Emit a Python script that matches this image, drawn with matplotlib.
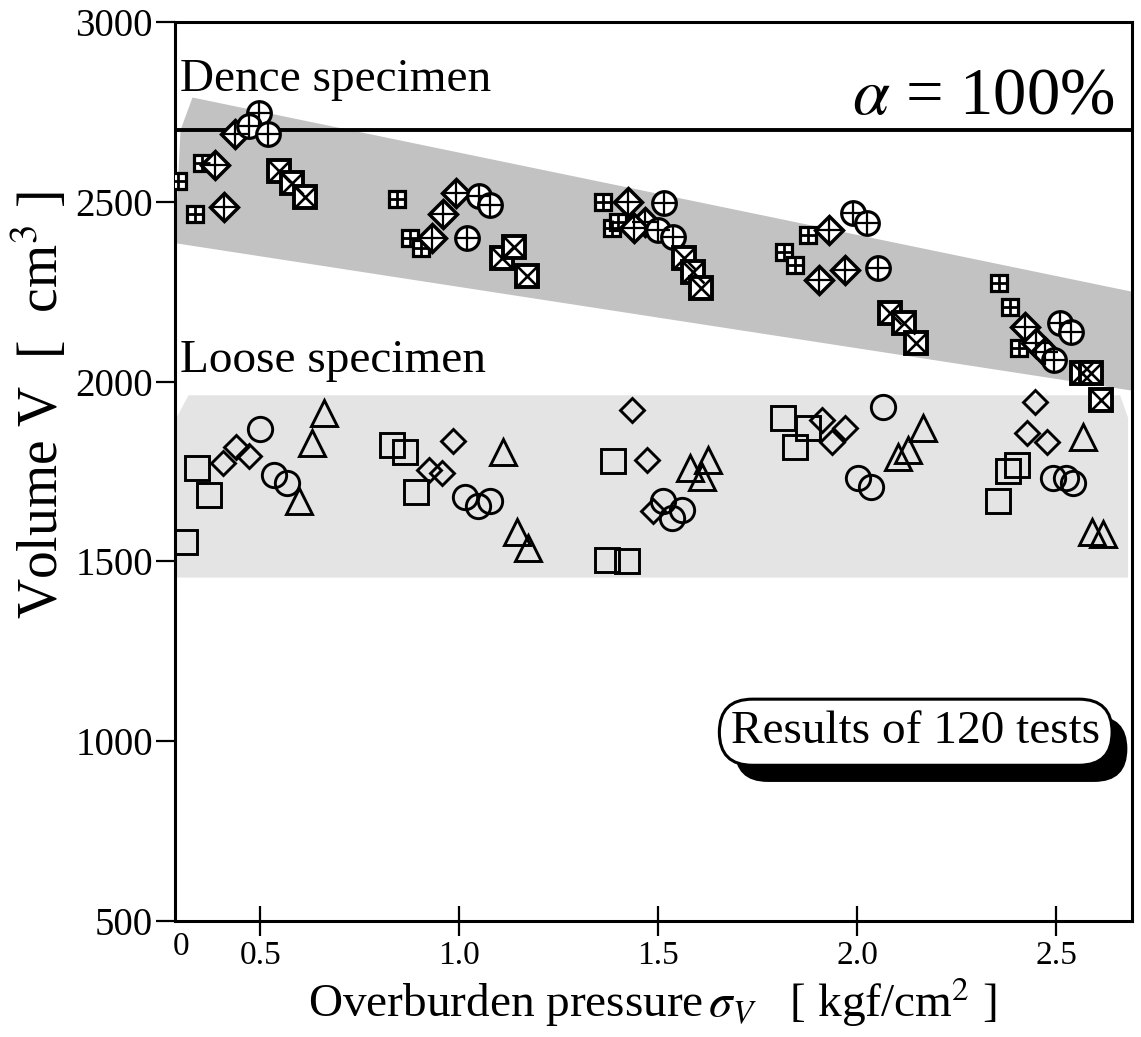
import matplotlib
matplotlib.use("Agg")
import matplotlib.pyplot as plt
import matplotlib.patheffects as pe
from matplotlib.patches import Polygon

plt.rcParams['font.family'] = ['Liberation Serif', 'DejaVu Serif']
plt.rcParams['mathtext.fontset'] = 'stix'

# ---------------- data ----------------
x_ticks = [0.5, 1.0, 1.5, 2.0, 2.5]
x_tick_labels = ['0.5', '1.0', '1.5', '2.0', '2.5']
y_ticks = [500, 1000, 1500, 2000, 2500, 3000]
x_limits = (0.286, 2.69)
y_limits = (500, 3000)
alpha100_volume = 2700

# Dense specimens
dense_grid_x = [0.294, 0.336, 0.354, 0.844, 0.877, 0.904, 1.362, 1.384, 1.399,
                1.816, 1.844, 1.877, 2.357, 2.384, 2.407]
dense_grid_v = [2558, 2467, 2608, 2508, 2400, 2372, 2500, 2428, 2444,
                2361, 2325, 2408, 2275, 2208, 2094]
dense_dia_x = [0.387, 0.409, 0.437, 0.932, 0.960, 0.992, 1.424, 1.467, 1.439,
               1.904, 1.929, 1.970, 2.422, 2.450, 2.472]
dense_dia_v = [2603, 2486, 2689, 2400, 2467, 2525, 2500, 2444, 2428,
               2283, 2422, 2311, 2153, 2108, 2081]
dense_cir_x = [0.497, 0.472, 0.520, 1.020, 1.050, 1.078, 1.515, 1.500, 1.537,
               1.990, 2.025, 2.053, 2.510, 2.538, 2.495]
dense_cir_v = [2747, 2711, 2689, 2400, 2517, 2492, 2497, 2422, 2403,
               2469, 2442, 2317, 2164, 2139, 2061]
dense_box_x = [0.547, 0.580, 0.613, 1.108, 1.138, 1.171, 1.565, 1.588, 1.608,
               2.083, 2.118, 2.148, 2.565, 2.588, 2.611]
dense_box_v = [2586, 2553, 2514, 2344, 2375, 2294, 2344, 2306, 2261,
               2192, 2164, 2108, 2025, 2025, 1950]

# Loose specimens
loose_sq_x = [0.311, 0.341, 0.371, 0.831, 0.864, 0.892, 1.387, 1.372, 1.422,
              1.814, 1.877, 1.844, 2.402, 2.379, 2.354]
loose_sq_v = [1553, 1761, 1686, 1825, 1803, 1694, 1778, 1505, 1500,
              1900, 1872, 1817, 1769, 1750, 1669]
loose_dia_x = [0.407, 0.439, 0.472, 0.985, 0.924, 0.957, 1.434, 1.472, 1.487,
               1.912, 1.970, 1.937, 2.447, 2.427, 2.477]
loose_dia_v = [1775, 1817, 1792, 1836, 1755, 1747, 1922, 1783, 1639,
               1894, 1872, 1833, 1942, 1858, 1833]
loose_cir_x = [0.500, 0.535, 0.567, 1.015, 1.047, 1.078, 1.512, 1.535, 1.560,
               2.065, 2.002, 2.035, 2.492, 2.523, 2.543]
loose_cir_v = [1867, 1739, 1719, 1680, 1655, 1669, 1667, 1622, 1644,
               1928, 1733, 1708, 1733, 1733, 1717]
loose_tri_x = [0.598, 0.630, 0.660, 1.110, 1.145, 1.173, 1.580, 1.610, 1.625,
               2.166, 2.103, 2.128, 2.568, 2.590, 2.618]
loose_tri_v = [1667, 1830, 1914, 1803, 1583, 1536, 1761, 1736, 1783,
               1872, 1789, 1811, 1847, 1581, 1575]

# Shaded bands (data coordinates of their outlines)
dense_band_x = [0.30, 0.33, 2.69, 2.69, 0.286]
dense_band_v = [2700, 2790, 2250, 1975, 2385]
loose_band_x = [0.29, 0.32, 2.66, 2.68, 2.68, 0.29]
loose_band_v = [1900, 1962, 1962, 1900, 1455, 1455]

# ---------------- figure ----------------
fig = plt.figure(figsize=(11.41, 10.37), dpi=100)
ax = fig.add_axes([175/1141, 1-921/1037, 957/1141, 899/1037])
ax.set_xlim(*x_limits)
ax.set_ylim(*y_limits)

ax.add_patch(Polygon(list(zip(dense_band_x, dense_band_v)), closed=True,
                     facecolor='#c2c2c2', edgecolor='none', zorder=1))
ax.add_patch(Polygon(list(zip(loose_band_x, loose_band_v)), closed=True,
                     facecolor='#e4e4e4', edgecolor='none', zorder=1))

ax.axhline(alpha100_volume, color='black', lw=2.8, zorder=2)

k = 'black'
# dense: square grid
ax.plot(dense_grid_x, dense_grid_v, ls='none', marker='s', ms=11.5, mfc='white',
        mec=k, mew=2.3, zorder=4)
ax.plot(dense_grid_x, dense_grid_v, ls='none', marker='+', ms=11.5, mec=k,
        mew=2.0, zorder=5)
# dense: diamond with plus
ax.plot(dense_dia_x, dense_dia_v, ls='none', marker='D', ms=14, mfc='white',
        mec=k, mew=2.5, zorder=4)
ax.plot(dense_dia_x, dense_dia_v, ls='none', marker='+', ms=19, mec=k,
        mew=1.6, zorder=5)
# dense: circle with plus
ax.plot(dense_cir_x, dense_cir_v, ls='none', marker='o', ms=17, mfc='white',
        mec=k, mew=2.3, zorder=4)
ax.plot(dense_cir_x, dense_cir_v, ls='none', marker='+', ms=17, mec=k,
        mew=1.6, zorder=5)
# dense: square with cross
ax.plot(dense_box_x, dense_box_v, ls='none', marker='s', ms=16.5, mfc='white',
        mec=k, mew=2.8, zorder=4)
ax.plot(dense_box_x, dense_box_v, ls='none', marker='x', ms=16.5, mec=k,
        mew=1.9, zorder=5)

# loose markers (open)
ax.plot(loose_sq_x, loose_sq_v, ls='none', marker='s', ms=17, mfc='none',
        mec=k, mew=2.1, zorder=4)
ax.plot(loose_dia_x, loose_dia_v, ls='none', marker='D', ms=12, mfc='none',
        mec=k, mew=2.1, zorder=4)
ax.plot(loose_cir_x, loose_cir_v, ls='none', marker='o', ms=17.5, mfc='none',
        mec=k, mew=2.1, zorder=4)
ax.plot(loose_tri_x, loose_tri_v, ls='none', marker='^', ms=19, mfc='none',
        mec=k, mew=2.1, zorder=4)

# axes styling
for s in ax.spines.values():
    s.set_linewidth(2.2)
ax.set_xticks(x_ticks)
ax.set_xticklabels(x_tick_labels)
ax.set_yticks(y_ticks)
ax.tick_params(axis='x', direction='inout', length=22, width=1.6,
               labelsize=24, pad=3)
ax.tick_params(axis='y', direction='out', length=14, width=1.6,
               labelsize=28, pad=2)
ax.text(0.006, -0.012, '0', transform=ax.transAxes, ha='center', va='top',
        fontsize=24)

# annotations
ax.text(0.005, 0.923, 'Dence specimen', transform=ax.transAxes, ha='left',
        va='baseline', fontsize=34)
ax.text(0.005, 0.611, 'Loose specimen', transform=ax.transAxes, ha='left',
        va='baseline', fontsize=34)
ax.text(0.982, 0.898, r'$\alpha$ = 100%', transform=ax.transAxes, ha='right',
        va='baseline', fontsize=48)

t = ax.text(0.774, 0.21, 'Results of 120 tests', transform=ax.transAxes,
            ha='center', va='center', fontsize=34, zorder=6,
            bbox=dict(boxstyle='round,pad=0.25,rounding_size=0.7',
                      facecolor='white', edgecolor='black', linewidth=2.2))
t.get_bbox_patch().set_path_effects([
    pe.SimplePatchShadow(offset=(11, -12), shadow_rgbFace='black', alpha=1.0),
    pe.Normal()])

fig.text(40/1141, 1-405/1037, r'Volume V  [  cm$^3$ ]', rotation=90,
         ha='center', va='center', fontsize=40)
fig.text(652/1141, 1-1002/1037,
         r'Overburden pressure$\,\mathit{\sigma}_V$   [ kgf/cm$^2$ ]',
         ha='center', va='center', fontsize=34)

fig.savefig('out.png', dpi=100)
